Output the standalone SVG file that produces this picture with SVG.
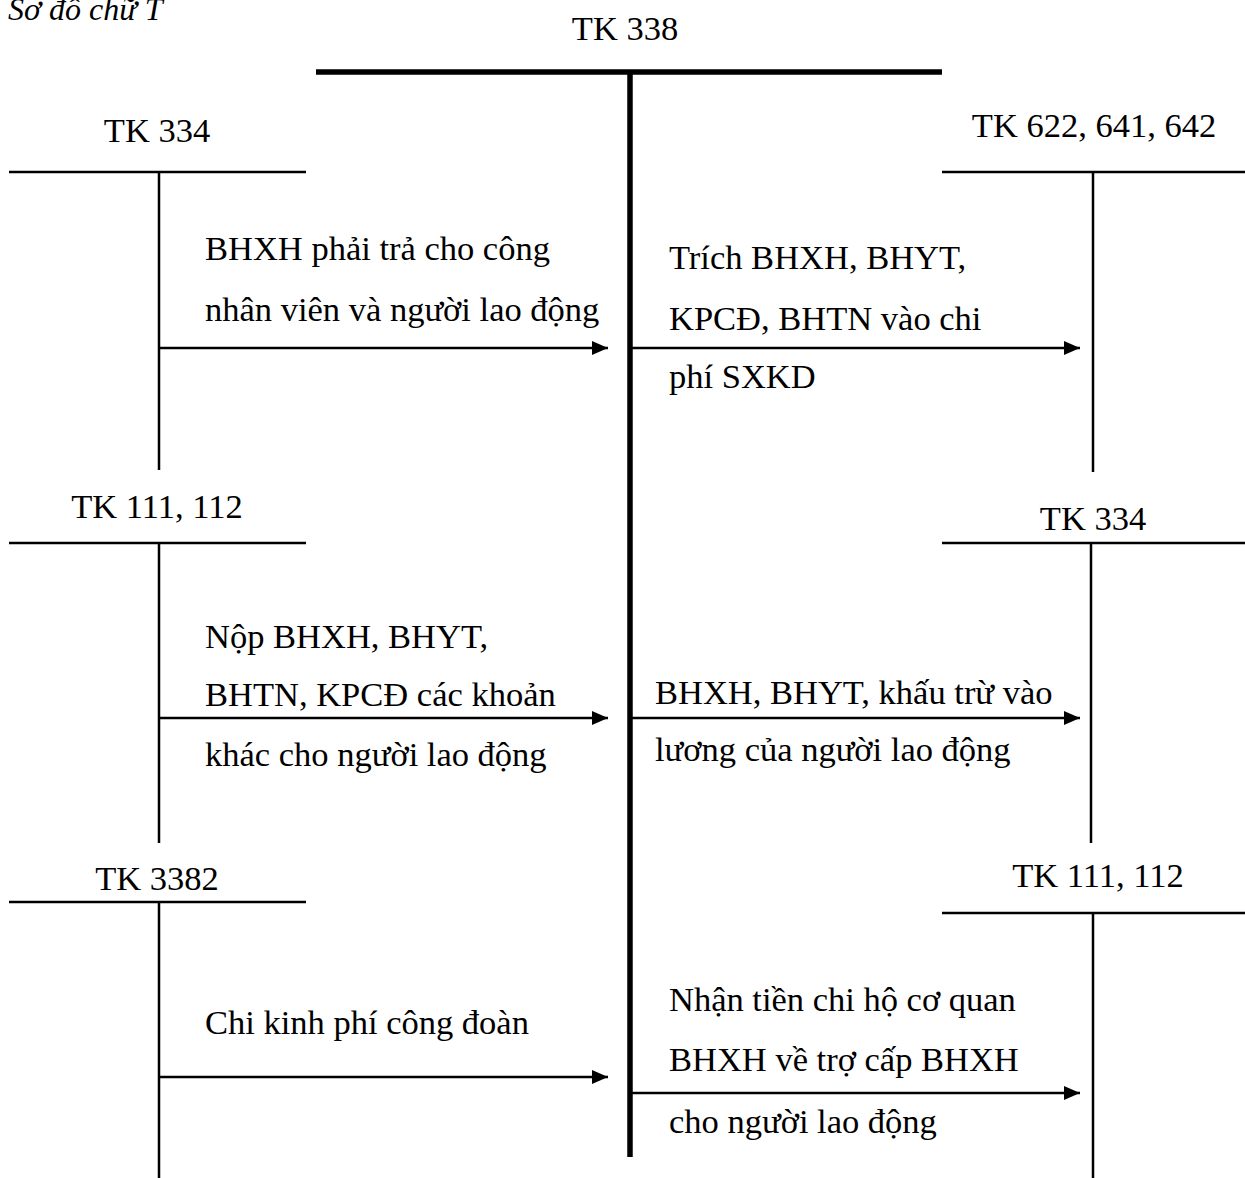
<svg xmlns="http://www.w3.org/2000/svg" width="1245" height="1178" viewBox="0 0 1245 1178">
  <defs>
    <marker id="arr" viewBox="0 0 16 14" refX="16" refY="7" markerWidth="16" markerHeight="14" markerUnits="userSpaceOnUse" orient="auto">
      <path d="M0,0 L16,7 L0,14 Z" fill="#000"/>
    </marker>
  </defs>
  <style>
    text { font-family: "Liberation Serif", "Times New Roman", serif; font-size: 34.5px; fill: #000; }
    .title { font-style: italic; font-size: 32px; }
    .c { text-anchor: middle; }
    .thin { stroke: #000; stroke-width: 2.5; fill: none; }
    .thick { stroke: #000; stroke-width: 5.5; fill: none; }
    .arrow { stroke: #000; stroke-width: 2.5; fill: none; marker-end: url(#arr); }
  </style>
  <rect width="1245" height="1178" fill="#fff"/>
  <text class="title" x="8" y="20">Sơ đồ chữ T</text>

  <g id="tk338">
    <text class="c" x="625" y="40">TK 338</text>
    <line class="thick" x1="316" y1="72" x2="942" y2="72"/>
    <line class="thick" x1="630" y1="72" x2="630" y2="1157"/>
  </g>

  <g id="tk334-left">
    <text class="c" x="157" y="142">TK 334</text>
    <line class="thin" x1="9" y1="172" x2="306" y2="172"/>
    <line class="thin" x1="159" y1="172" x2="159" y2="470"/>
  </g>
  <g id="tk111-left">
    <text class="c" x="157" y="518">TK 111, 112</text>
    <line class="thin" x1="9" y1="543" x2="306" y2="543"/>
    <line class="thin" x1="159" y1="543" x2="159" y2="843"/>
  </g>
  <g id="tk3382-left">
    <text class="c" x="157" y="890">TK 3382</text>
    <line class="thin" x1="9" y1="902" x2="306" y2="902"/>
    <line class="thin" x1="159" y1="902" x2="159" y2="1178"/>
  </g>

  <g id="tk622-right">
    <text class="c" x="1094" y="137">TK 622, 641, 642</text>
    <line class="thin" x1="942" y1="172" x2="1245" y2="172"/>
    <line class="thin" x1="1093" y1="172" x2="1093" y2="472"/>
  </g>
  <g id="tk334-right">
    <text class="c" x="1093" y="530">TK 334</text>
    <line class="thin" x1="942" y1="543" x2="1245" y2="543"/>
    <line class="thin" x1="1091" y1="543" x2="1091" y2="843"/>
  </g>
  <g id="tk111-right">
    <text class="c" x="1098" y="887">TK 111, 112</text>
    <line class="thin" x1="942" y1="913" x2="1245" y2="913"/>
    <line class="thin" x1="1093" y1="913" x2="1093" y2="1178"/>
  </g>

  <g id="connectors">
    <line class="arrow" x1="159" y1="348" x2="608" y2="348"/>
    <line class="arrow" x1="159" y1="718" x2="608" y2="718"/>
    <line class="arrow" x1="159" y1="1077" x2="608" y2="1077"/>
    <line class="arrow" x1="630" y1="348" x2="1080" y2="348"/>
    <line class="arrow" x1="630" y1="718" x2="1080" y2="718"/>
    <line class="arrow" x1="630" y1="1093" x2="1080" y2="1093"/>
  </g>

  <g id="labels">
    <text x="205" y="260">BHXH phải trả cho công</text>
    <text x="205" y="321">nhân viên và người lao động</text>
    <text x="669" y="269">Trích BHXH, BHYT,</text>
    <text x="669" y="330">KPCĐ, BHTN vào chi</text>
    <text x="669" y="388">phí SXKD</text>
    <text x="205" y="648">Nộp BHXH, BHYT,</text>
    <text x="205" y="706">BHTN, KPCĐ các khoản</text>
    <text x="205" y="766">khác cho người lao động</text>
    <text x="655" y="704">BHXH, BHYT, khấu trừ vào</text>
    <text x="655" y="761">lương của người lao động</text>
    <text x="205" y="1034">Chi kinh phí công đoàn</text>
    <text x="669" y="1011">Nhận tiền chi hộ cơ quan</text>
    <text x="669" y="1071">BHXH về trợ cấp BHXH</text>
    <text x="669" y="1133">cho người lao động</text>
  </g>
</svg>
